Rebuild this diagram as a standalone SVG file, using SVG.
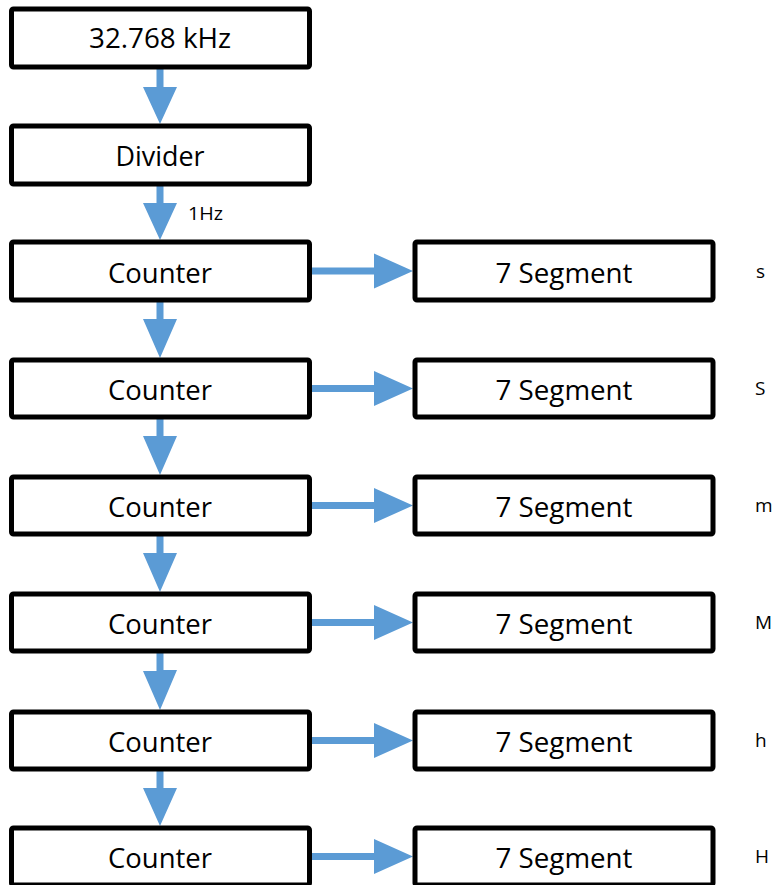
<svg xmlns="http://www.w3.org/2000/svg" width="774" height="885" viewBox="0 0 774 885">
<style>
.box{fill:#fff;stroke:#000;stroke-width:5;}
.t{font-family:"Open Sans","Noto Sans",sans-serif;font-size:28px;fill:#000;text-anchor:middle;}
.l{font-family:"Open Sans","Noto Sans",sans-serif;font-size:19px;fill:#000;}
.ar{fill:#5B9BD5;}
</style>
<rect width="774" height="885" fill="#fff"/>
<g id="connectors">
<path class="ar" d="M156.5 68 h7 v19 h13.5 L160 124 L143 87 h13.5 Z"/>
<path class="ar" d="M156.5 185 h7 v18 h13.5 L160 240 L143 203 h13.5 Z"/>
<path class="ar" d="M156.5 301 h7 v18 h13.5 L160 358 L143 319 h13.5 Z"/>
<path class="ar" d="M156.5 418 h7 v18 h13.5 L160 475 L143 436 h13.5 Z"/>
<path class="ar" d="M156.5 535 h7 v18 h13.5 L160 592 L143 553 h13.5 Z"/>
<path class="ar" d="M156.5 652 h7 v18 h13.5 L160 710 L143 671 h13.5 Z"/>
<path class="ar" d="M156.5 770 h7 v18 h13.5 L160 826 L143 788 h13.5 Z"/>
<path class="ar" d="M311 267.5 h63 v-14 L413 271 L374 288.5 v-14 h-63 Z"/>
<path class="ar" d="M311 385 h63 v-14 L413 388.5 L374 406 v-14 h-63 Z"/>
<path class="ar" d="M311 502 h63 v-14 L413 505.5 L374 523 v-14 h-63 Z"/>
<path class="ar" d="M311 619 h63 v-14 L413 622.5 L374 640 v-14 h-63 Z"/>
<path class="ar" d="M311 737 h63 v-14 L413 740.5 L374 758 v-14 h-63 Z"/>
<path class="ar" d="M311 853 h63 v-14 L413 856.5 L374 874 v-14 h-63 Z"/>
</g>
<g id="osc"><rect class="box" x="11.5" y="9" width="298" height="58" rx="2"/><text class="t" x="160" y="48" textLength="142" lengthAdjust="spacingAndGlyphs">32.768 kHz</text></g>
<g id="divider"><rect class="box" x="11.5" y="126" width="298" height="58" rx="2"/><text class="t" x="160" y="166" textLength="89" lengthAdjust="spacingAndGlyphs">Divider</text></g>
<text class="l" x="188" y="220" textLength="35" lengthAdjust="spacingAndGlyphs">1Hz</text>
<g id="counter1"><rect class="box" x="11.5" y="242" width="298" height="58" rx="2"/><text class="t" x="160" y="283" textLength="104" lengthAdjust="spacingAndGlyphs">Counter</text></g>
<g id="seg1"><rect class="box" x="415" y="242" width="298" height="58" rx="2"/><text class="t" x="564" y="283" textLength="137" lengthAdjust="spacingAndGlyphs">7 Segment</text></g>
<text class="l" x="756" y="278">s</text>
<g id="counter2"><rect class="box" x="11.5" y="360" width="298" height="57" rx="2"/><text class="t" x="160" y="400" textLength="104" lengthAdjust="spacingAndGlyphs">Counter</text></g>
<g id="seg2"><rect class="box" x="415" y="360" width="298" height="57" rx="2"/><text class="t" x="564" y="400" textLength="137" lengthAdjust="spacingAndGlyphs">7 Segment</text></g>
<text class="l" x="755" y="395">S</text>
<g id="counter3"><rect class="box" x="11.5" y="477" width="298" height="57" rx="2"/><text class="t" x="160" y="517" textLength="104" lengthAdjust="spacingAndGlyphs">Counter</text></g>
<g id="seg3"><rect class="box" x="415" y="477" width="298" height="57" rx="2"/><text class="t" x="564" y="517" textLength="137" lengthAdjust="spacingAndGlyphs">7 Segment</text></g>
<text class="l" x="755" y="512">m</text>
<g id="counter4"><rect class="box" x="11.5" y="594" width="298" height="57" rx="2"/><text class="t" x="160" y="634" textLength="104" lengthAdjust="spacingAndGlyphs">Counter</text></g>
<g id="seg4"><rect class="box" x="415" y="594" width="298" height="57" rx="2"/><text class="t" x="564" y="634" textLength="137" lengthAdjust="spacingAndGlyphs">7 Segment</text></g>
<text class="l" x="755" y="629">M</text>
<g id="counter5"><rect class="box" x="11.5" y="712" width="298" height="57" rx="2"/><text class="t" x="160" y="752" textLength="104" lengthAdjust="spacingAndGlyphs">Counter</text></g>
<g id="seg5"><rect class="box" x="415" y="712" width="298" height="57" rx="2"/><text class="t" x="564" y="752" textLength="137" lengthAdjust="spacingAndGlyphs">7 Segment</text></g>
<text class="l" x="755" y="747">h</text>
<g id="counter6"><rect class="box" x="11.5" y="828" width="298" height="57" rx="2"/><text class="t" x="160" y="868" textLength="104" lengthAdjust="spacingAndGlyphs">Counter</text></g>
<g id="seg6"><rect class="box" x="415" y="828" width="298" height="57" rx="2"/><text class="t" x="564" y="868" textLength="137" lengthAdjust="spacingAndGlyphs">7 Segment</text></g>
<text class="l" x="755" y="863">H</text>
</svg>
